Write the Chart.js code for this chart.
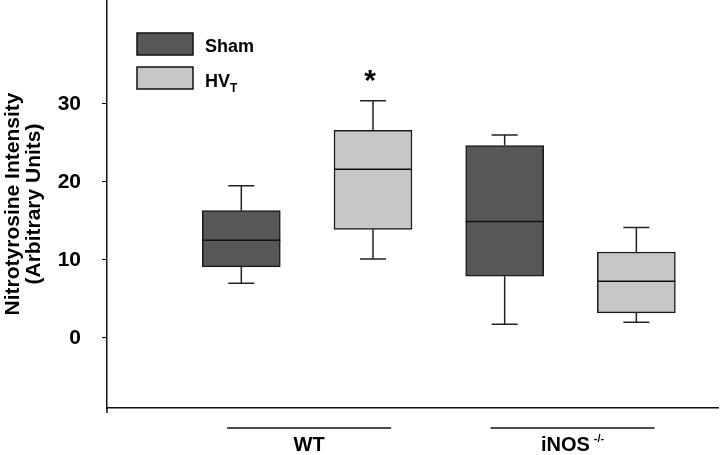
<!DOCTYPE html>
<html>
<head>
<meta charset="utf-8">
<script src="https://cdn.jsdelivr.net/npm/chart.js@4/dist/chart.umd.min.js"></script>
<style>
  html, body { margin: 0; padding: 0; background: #fff; }
  #wrap { width: 720px; height: 455px; }
</style>
</head>
<body>
<div id="wrap"><canvas id="boxChart" width="720" height="455"></canvas></div>
<script>
// Données
const categories = ["WT Sham", "WT HVT", "iNOS Sham", "iNOS HVT"];
const groupe = ["Sham", "HVT", "Sham", "HVT"];
const q1 = [9.1, 13.9, 7.9, 3.2];
const mediane = [12.5, 21.6, 14.9, 7.25];
const q3 = [16.3, 26.6, 24.65, 11.0];
const moustacheBas = [7.0, 10.1, 1.75, 2.0];
const moustacheHaut = [19.5, 30.4, 26.0, 14.15];
const significatif = [false, true, false, false];
const yTicks = [0, 10, 20, 30];
const series = ["Sham", "HVT"];
const groupes = [
  { label: "WT", sup: "", boites: [0, 1] },
  { label: "iNOS", sup: "-/-", boites: [2, 3] }
];
const yTitre = ["Nitrotyrosine Intensity", "(Arbitrary Units)"];

const couleurs = { Sham: "#575757", HVT: "#c7c7c7" };
const police = "'Liberation Sans', Arial, sans-serif";

function donneesSerie(nom) {
  const out = [];
  categories.forEach((c, i) => {
    if (groupe[i] === nom) out.push({ x: i + 1, y: [q1[i], q3[i]] });
  });
  return out;
}

// moustaches, médianes, légende, étiquettes de groupe
const boxExtras = {
  id: "boxExtras",
  afterDatasetsDraw(chart) {
    const ctx = chart.ctx;
    const x = chart.scales.x;
    const y = chart.scales.y;
    const demi = 39;
    ctx.save();
    categories.forEach((c, i) => {
      const cx = x.getPixelForValue(i + 1);
      ctx.strokeStyle = "#222";
      ctx.lineWidth = 1.5;
      ctx.beginPath();
      // haut
      ctx.moveTo(cx, y.getPixelForValue(q3[i]));
      ctx.lineTo(cx, y.getPixelForValue(moustacheHaut[i]));
      ctx.moveTo(cx - 13, y.getPixelForValue(moustacheHaut[i]));
      ctx.lineTo(cx + 13, y.getPixelForValue(moustacheHaut[i]));
      // bas
      ctx.moveTo(cx, y.getPixelForValue(q1[i]));
      ctx.lineTo(cx, y.getPixelForValue(moustacheBas[i]));
      ctx.moveTo(cx - 13, y.getPixelForValue(moustacheBas[i]));
      ctx.lineTo(cx + 13, y.getPixelForValue(moustacheBas[i]));
      ctx.stroke();
      // médiane
      ctx.beginPath();
      ctx.strokeStyle = "#111";
      ctx.moveTo(cx - demi, y.getPixelForValue(mediane[i]));
      ctx.lineTo(cx + demi, y.getPixelForValue(mediane[i]));
      ctx.stroke();
      if (significatif[i]) {
        ctx.fillStyle = "#000";
        ctx.font = "bold 30px " + police;
        ctx.textAlign = "center";
        ctx.textBaseline = "middle";
        ctx.fillText("*", cx - 3, y.getPixelForValue(moustacheHaut[i]) - 19);
      }
    });
    ctx.restore();
  },
  afterDraw(chart) {
    const ctx = chart.ctx;
    const x = chart.scales.x;
    const y = chart.scales.y;
    ctx.save();
    // petit dépassement de l'axe vertical sous l'axe horizontal
    ctx.strokeStyle = "#111";
    ctx.lineWidth = 1.5;
    ctx.beginPath();
    ctx.moveTo(chart.chartArea.left, chart.chartArea.bottom);
    ctx.lineTo(chart.chartArea.left, chart.chartArea.bottom + 5);
    ctx.stroke();
    // légende
    series.forEach((s, k) => {
      const top = 33 + k * 34;
      ctx.fillStyle = couleurs[s];
      ctx.fillRect(137, top, 56, 22);
      ctx.strokeStyle = "#111";
      ctx.lineWidth = 1.5;
      ctx.strokeRect(137, top, 56, 22);
      ctx.fillStyle = "#000";
      ctx.textAlign = "left";
      ctx.textBaseline = "alphabetic";
      ctx.font = "bold 18px " + police;
      if (s === "HVT") {
        ctx.fillText("HV", 205, top + 20);
        const w = ctx.measureText("HV").width;
        ctx.font = "bold 12px " + police;
        ctx.fillText("T", 205 + w, top + 25);
      } else {
        ctx.fillText(s, 205, top + 19);
      }
    });
    // étiquettes de groupe sous l'axe
    groupes.forEach(g => {
      const a = x.getPixelForValue(g.boites[0] + 1);
      const b = x.getPixelForValue(g.boites[1] + 1);
      const cx = (a + b) / 2 + 2;
      ctx.strokeStyle = "#111";
      ctx.lineWidth = 1.5;
      ctx.beginPath();
      ctx.moveTo(cx - 82, 428);
      ctx.lineTo(cx + 82, 428);
      ctx.stroke();
      ctx.fillStyle = "#000";
      ctx.font = "bold 20px " + police;
      ctx.textBaseline = "alphabetic";
      const w = ctx.measureText(g.label).width;
      ctx.font = "bold 11px " + police;
      const ws = g.sup ? ctx.measureText(g.sup).width + 4 : 0;
      const x0 = cx - (w + ws) / 2;
      ctx.textAlign = "left";
      ctx.font = "bold 20px " + police;
      ctx.fillText(g.label, x0, 451);
      if (g.sup) {
        ctx.font = "bold 11px " + police;
        ctx.fillText(g.sup, x0 + w + 4, 442);
      }
    });
    ctx.restore();
  }
};

new Chart(document.getElementById("boxChart"), {
  type: "bar",
  data: {
    datasets: series.map(s => ({
      label: s,
      data: donneesSerie(s),
      backgroundColor: couleurs[s],
      borderColor: "#1a1a1a",
      borderWidth: 1.5,
      borderSkipped: false,
      barThickness: 78,
      grouped: false
    }))
  },
  options: {
    responsive: false,
    devicePixelRatio: 1,
    animation: false,
    layout: { padding: { left: 0, top: 0, right: 2, bottom: 47 } },
    plugins: {
      legend: { display: false },
      tooltip: { enabled: false }
    },
    scales: {
      x: {
        type: "linear",
        offset: false,
        min: -0.02,
        max: 4.62,
        ticks: { display: false },
        grid: { display: false, drawTicks: false },
        border: { display: true, color: "#111", width: 1.5 },
        afterFit: scale => {
          scale.height = 0;
          scale.paddingLeft = 0;
          scale.paddingRight = 0;
        }
      },
      y: {
        min: -9,
        max: 43.3,
        afterBuildTicks: scale => {
          scale.ticks = yTicks.map(v => ({ value: v }));
        },
        ticks: {
          color: "#000",
          padding: 21,
          font: { family: police, size: 21, weight: "bold" }
        },
        grid: {
          drawOnChartArea: false,
          drawTicks: true,
          tickLength: 5,
          color: "#000",
          lineWidth: 1
        },
        border: { display: true, color: "#111", width: 1.5 },
        title: {
          display: true,
          text: yTitre,
          color: "#000",
          padding: { top: 3, bottom: 0 },
          font: { family: police, size: 21, weight: "bold", lineHeight: 1.0 }
        },
        afterFit: scale => {
          scale.width = 107;
          scale.paddingTop = 0;
          scale.paddingBottom = 0;
        }
      }
    }
  },
  plugins: [boxExtras]
});
</script>
</body>
</html>
